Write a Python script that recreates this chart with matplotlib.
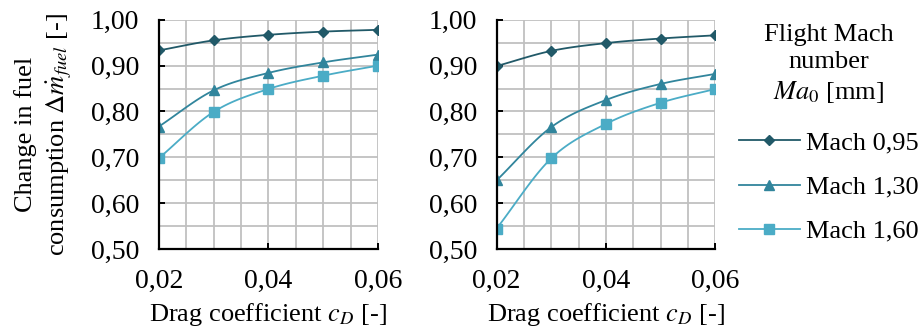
import numpy as np
import matplotlib
matplotlib.use("Agg")
import matplotlib.pyplot as plt
from matplotlib.ticker import MultipleLocator, FuncFormatter

# data
cd = [0.02, 0.03, 0.04, 0.05, 0.06]
labels = ["Mach 0,95", "Mach 1,30", "Mach 1,60"]

left_m095 = [0.933, 0.955, 0.967, 0.974, 0.978]
left_m130 = [0.767, 0.846, 0.884, 0.907, 0.924]
left_m160 = [0.698, 0.799, 0.849, 0.878, 0.900]

right_m095 = [0.899, 0.932, 0.949, 0.959, 0.966]
right_m130 = [0.650, 0.766, 0.825, 0.860, 0.882]
right_m160 = [0.545, 0.698, 0.773, 0.819, 0.849]

colors = ["#215968", "#31859c", "#4bacc6"]
markers = ["D", "^", "s"]
msizes = [5.5, 6.5, 6.5]

plt.rcParams["font.family"] = ["Liberation Serif", "DejaVu Serif"]
plt.rcParams["mathtext.fontset"] = "stix"
FS = 20


def smooth(x, y, n=20):
    # Excel-like smoothed line (Catmull-Rom through the given points)
    x = np.asarray(x, float)
    y = np.asarray(y, float)
    px = np.concatenate([[2 * x[0] - x[1]], x, [2 * x[-1] - x[-2]]])
    py = np.concatenate([[2 * y[0] - y[1]], y, [2 * y[-1] - y[-2]]])
    xs, ys = [], []
    t = np.linspace(0, 1, n)
    for i in range(1, len(px) - 2):
        for arr, out in ((px, xs), (py, ys)):
            p0, p1, p2, p3 = arr[i - 1], arr[i], arr[i + 1], arr[i + 2]
            out.extend(0.5 * ((2 * p1) + (-p0 + p2) * t
                              + (2 * p0 - 5 * p1 + 4 * p2 - p3) * t ** 2
                              + (-p0 + 3 * p1 - 3 * p2 + p3) * t ** 3))
    return xs, ys


def comma(v, pos, nd):
    return f"{v:.{nd}f}".replace(".", ",")


fig = plt.figure(figsize=(9.24, 3.34), dpi=100)
ax1 = fig.add_axes([0.1718, 0.254, 0.2373, 0.687])
ax2 = fig.add_axes([0.5375, 0.254, 0.2366, 0.687])

handles = []
for ax, series in ((ax1, (left_m095, left_m130, left_m160)),
                   (ax2, (right_m095, right_m130, right_m160))):
    for i, ys in enumerate(series):
        sx, sy = smooth(cd, ys)
        ax.plot(sx, sy, color=colors[i], lw=1.3, zorder=3)
        ax.plot(cd, ys, ls="none", marker=markers[i], ms=msizes[i],
                color=colors[i], zorder=4)
        if ax is ax2:
            h, = ax.plot([], [], color=colors[i], lw=1.3, marker=markers[i],
                         ms=msizes[i], label=labels[i])
            handles.append(h)

    ax.set_xlim(0.02, 0.06)
    ax.set_ylim(0.5, 1.0)
    ax.xaxis.set_major_locator(MultipleLocator(0.02))
    ax.xaxis.set_minor_locator(MultipleLocator(0.005))
    ax.yaxis.set_major_locator(MultipleLocator(0.1))
    ax.yaxis.set_minor_locator(MultipleLocator(0.05))
    ax.xaxis.set_major_formatter(FuncFormatter(lambda v, p: comma(v, p, 2)))
    ax.yaxis.set_major_formatter(FuncFormatter(lambda v, p: comma(v, p, 2)))
    ax.grid(which="both", color="#c0c0c0", lw=1.3, zorder=0)
    ax.set_axisbelow(True)
    for s in ("top", "right"):
        ax.spines[s].set_visible(False)
    for s in ("left", "bottom"):
        ax.spines[s].set_color("black")
        ax.spines[s].set_linewidth(1.6)
        ax.spines[s].set_zorder(5)
    ax.tick_params(which="major", direction="in", length=4, width=1.4,
                   labelsize=FS)
    ax.tick_params(axis="y", which="major", pad=14)
    ax.tick_params(axis="x", which="major", pad=14)
    ax.tick_params(which="minor", length=0)
    ax.set_xlabel(r"Drag coefficient $c_D$ [-]", fontsize=FS - 1, labelpad=5)

ax1.set_ylabel("Change in fuel\n" + r"consumption $\Delta\dot{m}_{fuel}$ [-]",
               fontsize=FS - 1, labelpad=12, linespacing=1.4)

leg = fig.legend(handles=handles, loc="upper center",
                 bbox_to_anchor=(0.897, 1.0), frameon=False,
                 title="Flight Mach\nnumber\n" + r"$Ma_0$ [mm]",
                 fontsize=FS - 1, title_fontsize=FS - 1, handlelength=2.3,
                 handletextpad=0.25, labelspacing=0.78)
leg._legend_box.align = "center"
leg._legend_box.sep = 19
leg.get_title().set_multialignment("center")
leg.get_title().set_linespacing(1.3)

fig.savefig("out.png", dpi=100)
